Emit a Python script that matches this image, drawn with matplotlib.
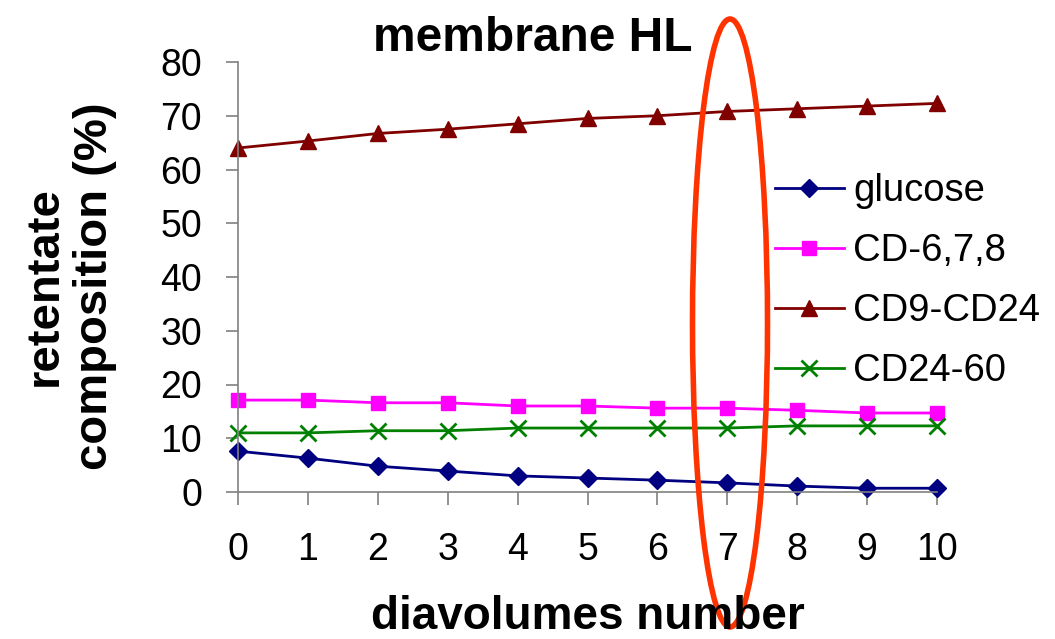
import matplotlib
matplotlib.use("Agg")
import matplotlib.pyplot as plt
from matplotlib.patches import Ellipse

plt.rcParams['font.family'] = ['Liberation Sans', 'DejaVu Sans']

diavolumes = list(range(11))
glucose = [7.6, 6.3, 4.8, 3.9, 3.0, 2.6, 2.2, 1.7, 1.1, 0.7, 0.7]
cd678 = [17.1, 17.1, 16.6, 16.6, 16.0, 16.0, 15.6, 15.6, 15.2, 14.7, 14.7]
cd9_24 = [64.0, 65.3, 66.7, 67.5, 68.5, 69.5, 70.0, 70.8, 71.3, 71.8, 72.3]
cd24_60 = [11.0, 11.0, 11.4, 11.4, 11.9, 11.9, 11.9, 11.9, 12.3, 12.3, 12.3]

W, H = 1055, 639
fig = plt.figure(figsize=(W/100, H/100), dpi=100)
ax = fig.add_axes([238/W, 1-492/H, (937-238)/W, (492-62)/H])

ax.plot(diavolumes, glucose, color='#000080', marker='D', ms=9.5, lw=2, label='glucose', clip_on=False)
ax.plot(diavolumes, cd678, color='#FF00FF', marker='s', ms=9.5, lw=2, label='CD-6,7,8', clip_on=False)
ax.plot(diavolumes, cd9_24, color='#800000', marker='^', ms=11, lw=2, label='CD9-CD24', clip_on=False)
ax.plot(diavolumes, cd24_60, color='#008000', marker='x', ms=11, mew=2, lw=2, label='CD24-60', clip_on=False)

ax.set_xlim(0, 10)
ax.set_ylim(0, 80)
ax.set_xticks(diavolumes)
ax.set_yticks(range(0, 81, 10))
for s in ['top', 'right']:
    ax.spines[s].set_visible(False)
for s in ['left', 'bottom']:
    ax.spines[s].set_color('#808080')
    ax.spines[s].set_linewidth(1.2)
ax.tick_params(axis='both', labelsize=27, color='#808080', length=9, width=1.2)
ax.tick_params(axis='x', pad=20)
ax.tick_params(axis='y', pad=17)

fig.text(533/W, 1-51/H, 'membrane HL', fontsize=34.5, fontweight='bold',
         ha='center', va='baseline')
fig.text(588/W, 1-629/H, 'diavolumes number', fontsize=33, fontweight='bold',
         ha='center', va='baseline')
fig.text(70/W, 1-286/H, 'retentate\ncomposition (%)', fontsize=34, fontweight='bold',
         ha='center', va='center', rotation=90, multialignment='center')

leg = ax.legend(loc='center left', bbox_to_anchor=(775/W, 1-281/H),
                bbox_transform=fig.transFigure, frameon=False,
                fontsize=27.5, handlelength=1.8, labelspacing=0.63, handletextpad=0.25,
                borderpad=0, borderaxespad=0)

ell = Ellipse((730/W, 1-323/H), 75/W, 608/H, transform=fig.transFigure,
              fill=False, edgecolor='#FF3300', lw=4)
fig.add_artist(ell)

fig.savefig('out.png', dpi=100)
